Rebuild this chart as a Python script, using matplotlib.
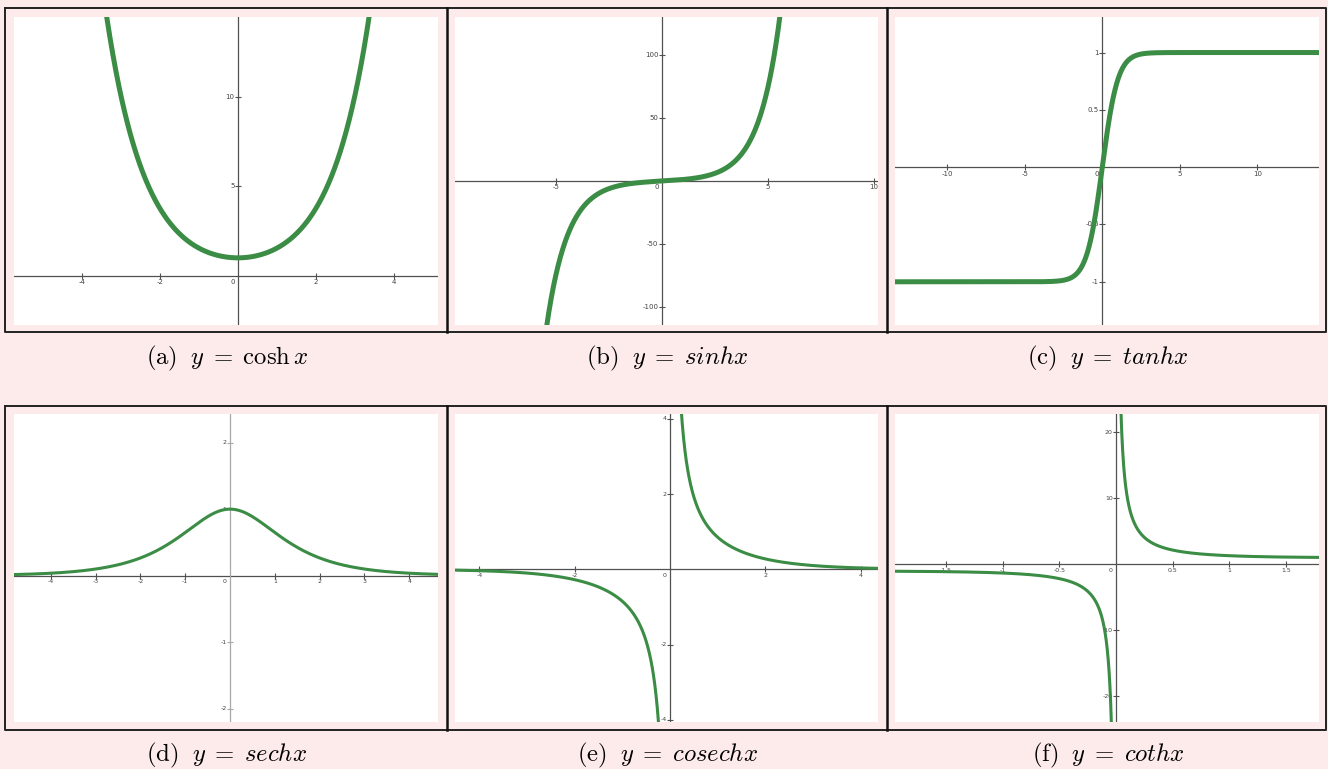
import numpy as np
import matplotlib.pyplot as plt

plt.rcParams['mathtext.fontset'] = 'cm'

# hyperbolic functions, one per panel, row by row
captions = [r'$\mathrm{(a)}\;\ y\;=\;\cosh x$', r'$\mathrm{(b)}\;\ y\;=\;sinhx$',
            r'$\mathrm{(c)}\;\ y\;=\;tanhx$', r'$\mathrm{(d)}\;\ y\;=\;sechx$',
            r'$\mathrm{(e)}\;\ y\;=\;cosechx$', r'$\mathrm{(f)}\;\ y\;=\;cothx$']
functions = [np.cosh, np.sinh, np.tanh,
             lambda x: 1 / np.cosh(x), lambda x: 1 / np.sinh(x), lambda x: 1 / np.tanh(x)]
x_ticks = [[-4, -2, 2, 4], [-5, 5, 10], [-10, -5, 5, 10],
           [-4, -3, -2, -1, 1, 2, 3, 4], [-4, -2, 2, 4], [-1.5, -1, -0.5, 0.5, 1, 1.5]]
y_ticks = [[5, 10], [-100, -50, 50, 100], [-1, -0.5, 0.5, 1],
           [-2, -1, 1, 2], [-4, -2, 2, 4], [-20, -10, 10, 20]]

# view windows of each graph
x_lims = [(-5.74, 5.13), (-9.76, 10.19), (-13.37, 13.98),
          (-4.82, 4.64), (-4.51, 4.36), (-1.95, 1.79)]
y_lims = [(-2.75, 14.45), (-113.9, 129.7), (-1.377, 1.31),
          (-2.2, 2.43), (-4.06, 4.13), (-23.9, 22.8)]

W, H = 1328, 769
pink = '#fdeaeb'
green = '#3b8c45'
axis_col = '#505050'

fig = plt.figure(figsize=(W / 100, H / 100), dpi=100, facecolor=pink)

# pixel-space background layer for frames and captions
bg = fig.add_axes([0, 0, 1, 1])
bg.set_xlim(0, W)
bg.set_ylim(H, 0)
bg.axis('off')

cols = [(14, 438), (455, 878), (895, 1319)]
rows = [(17, 325), (414, 722)]
frames = [(8, 332), (406, 730)]
cap_y = [358, 755]

for top, bot in frames:
    bg.plot([5, 1326, 1326, 5, 5], [top, top, bot, bot, top], color='#222222', lw=1.4)
    for xs in (446.5, 886.5):
        bg.plot([xs, xs], [top, bot], color='#111111', lw=1.8)

for i in range(6):
    r, c = divmod(i, 3)
    x0, x1 = cols[c]
    y0, y1 = rows[r]
    ax = fig.add_axes([x0 / W, 1 - y1 / H, (x1 - x0) / W, (y1 - y0) / H])
    ax.set_facecolor('white')
    for s in ax.spines.values():
        s.set_visible(False)
    ax.set_xticks([])
    ax.set_yticks([])
    ax.set_xlim(*x_lims[i])
    ax.set_ylim(*y_lims[i])

    yaxis_col = '#a8a8a8' if i == 3 else axis_col
    ax.axhline(0, color=axis_col, lw=0.9, zorder=1)
    ax.axvline(0, color=yaxis_col, lw=0.9, zorder=1)

    fs = 5 if r == 0 else 4.5
    ax.plot(x_ticks[i], np.zeros(len(x_ticks[i])), ls='none', marker='|',
            ms=4, mew=0.8, color=axis_col, zorder=1)
    ax.plot(np.zeros(len(y_ticks[i])), y_ticks[i], ls='none', marker='_',
            ms=4, mew=0.8, color=yaxis_col, zorder=1)
    for v in x_ticks[i]:
        ax.annotate(f'{v:g}', (v, 0), xytext=(0, -2.5), textcoords='offset points',
                    ha='center', va='top', fontsize=fs, color='#444444', zorder=2)
    for v in y_ticks[i]:
        ax.annotate(f'{v:g}', (0, v), xytext=(-2.5, 0), textcoords='offset points',
                    ha='right', va='center', fontsize=fs, color='#444444', zorder=2)
    ax.annotate('0', (0, 0), xytext=(-4, -2.5), textcoords='offset points',
                ha='center', va='top', fontsize=fs, color='#444444', zorder=2)

    lo, hi = x_lims[i]
    lw = 3.6 if r == 0 else 2.2
    if i in (4, 5):
        # two branches, split at the asymptote
        for xs in (np.linspace(lo, -1e-4, 3000), np.linspace(1e-4, hi, 3000)):
            ax.plot(xs, functions[i](xs), color=green, lw=lw, zorder=3)
    else:
        xs = np.linspace(lo, hi, 2000)
        ax.plot(xs, functions[i](xs), color=green, lw=lw, zorder=3)

    bg.text((cols[c][0] + cols[c][1]) / 2 + 1, cap_y[r], captions[i],
            ha='center', va='center', fontsize=17.8, color='black')

fig.savefig('out.png', dpi=100, facecolor=pink)
